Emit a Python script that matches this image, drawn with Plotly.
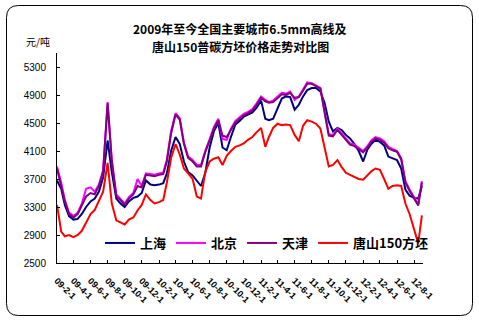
import plotly.graph_objects as go
import pandas as pd

# Sampling dates: 1st and 16th of each month, Feb 2009 – Aug 2012, plus the last quote
dates = []
for m in pd.period_range("2009-02", "2012-08", freq="M"):
    dates.append(f"{m.year}-{m.month:02d}-01")
    dates.append(f"{m.year}-{m.month:02d}-16")
dates.append("2012-08-29")

# Prices in yuan/ton
shanghai = [3680, 3560, 3330, 3170, 3120, 3130, 3200, 3300, 3380, 3420,
            3520, 3720, 4250, 3800, 3420, 3350, 3300, 3380, 3430, 3450,
            3500, 3680, 3620, 3610, 3620, 3640, 3780, 4100, 4300, 4200,
            3950, 3800, 3750, 3680, 3600, 3780, 4150, 4380, 4500, 4150,
            4110, 4300, 4480, 4530, 4590, 4620, 4650, 4720, 4820, 4560,
            4540, 4560, 4700, 4850, 4880, 4870, 4690, 4760, 4880, 4970,
            5000, 5000, 4950, 4790, 4520, 4380, 4430, 4400, 4330, 4280,
            4200, 4100, 3950, 4120, 4200, 4260, 4230, 4180, 4020, 4000,
            3970, 3850, 3550, 3460, 3430, 3420, 3600]

beijing = [3880, 3650, 3400, 3220, 3170, 3220, 3350, 3560, 3580, 3520,
           3620, 3830, 4800, 3980, 3480, 3420, 3350, 3440, 3500, 3700,
           3600, 3780, 3770, 3760, 3780, 3790, 3980, 4380, 4640, 4570,
           4220, 4020, 3970, 3900, 3900, 4100, 4270, 4440, 4560, 4270,
           4260, 4420, 4530, 4580, 4630, 4660, 4700, 4780, 4880, 4830,
           4800, 4820, 4880, 4930, 4920, 4950, 4830, 4880, 4980, 5080,
           5070, 5040, 5000, 4670, 4340, 4330, 4420, 4350, 4280, 4210,
           4190, 4150, 4100, 4170, 4250, 4300, 4280, 4240, 4160, 4130,
           4100, 4000, 3670, 3550, 3440, 3340, 3670]

tianjin = [3850, 3620, 3380, 3200, 3150, 3200, 3330, 3450, 3500, 3480,
           3600, 3800, 4780, 3950, 3450, 3400, 3330, 3420, 3480, 3600,
           3580, 3760, 3750, 3740, 3760, 3770, 3950, 4350, 4620, 4550,
           4200, 4000, 3950, 3880, 3880, 4080, 4250, 4420, 4540, 4320,
           4300, 4400, 4510, 4560, 4610, 4640, 4680, 4760, 4860, 4810,
           4790, 4800, 4860, 4910, 4900, 4930, 4860, 4870, 4960, 5060,
           5060, 5030, 4990, 4650, 4320, 4310, 4400, 4330, 4260, 4190,
           4170, 4130, 4080, 4150, 4230, 4280, 4260, 4220, 4140, 4110,
           4090, 3980, 3650, 3530, 3420, 3320, 3650]

tangshan = [3330, 2950, 2880, 2900, 2870, 2900, 2960, 3080, 3200, 3260,
            3400, 3520, 3930, 3350, 3110, 3080, 3050, 3120, 3150, 3250,
            3330, 3480, 3400, 3350, 3370, 3400, 3650, 4000, 4200, 4050,
            3850, 3780, 3700, 3450, 3420, 3800, 3950, 3990, 4010, 3900,
            4030, 4100, 4160, 4180, 4210, 4260, 4300, 4370, 4430, 4160,
            4300, 4430, 4490, 4470, 4480, 4470, 4330, 4240, 4460, 4540,
            4520, 4490, 4420, 4150, 3880, 3900, 3970, 3870, 3790, 3760,
            3730, 3700, 3690, 3760, 3810, 3850, 3830, 3700, 3560, 3600,
            3610, 3600, 3350, 3200, 2980, 2780, 3180]

series_names = ["上海", "北京", "天津", "唐山150方坯"]
series_values = [shanghai, beijing, tianjin, tangshan]
series_colors = ["#000080", "#FF00FF", "#800080", "#FF0000"]

title_lines = ["2009年至今全国主要城市6.5mm高线及", "唐山150普碳方坯价格走势对比图"]
unit_label = "元/吨"

W, H = 479, 323
ML, MR, MT, MB = 57, 56, 53, 60
PW, PH = W - ML - MR, H - MT - MB


def px(x):
    return (x - ML) / PW


def py(y):
    return (H - MB - y) / PH


fig = go.Figure()
for name, vals, col in zip(series_names, series_values, series_colors):
    fig.add_trace(go.Scatter(x=dates, y=vals, name=name, mode="lines",
                             line=dict(color=col, width=2)))

# rounded frame around the whole chart
x0, y0, x1, y1, r = 6.5, 5.5, 472.5, 315.5, 12
frame = (f"M {px(x0 + r)},{py(y0)} L {px(x1 - r)},{py(y0)} "
         f"Q {px(x1)},{py(y0)} {px(x1)},{py(y0 + r)} "
         f"L {px(x1)},{py(y1 - r)} Q {px(x1)},{py(y1)} {px(x1 - r)},{py(y1)} "
         f"L {px(x0 + r)},{py(y1)} Q {px(x0)},{py(y1)} {px(x0)},{py(y1 - r)} "
         f"L {px(x0)},{py(y0 + r)} Q {px(x0)},{py(y0)} {px(x0 + r)},{py(y0)} Z")
fig.add_shape(type="path", path=frame, xref="paper", yref="paper",
              line=dict(color="black", width=1), layer="below")

# two-line bold title
for line, yc in zip(title_lines, [28.5, 46.5]):
    fig.add_annotation(text="<b>" + line + "</b>",
                       xref="paper", yref="paper", x=0.5, y=py(yc),
                       xanchor="center", yanchor="middle", showarrow=False,
                       font=dict(family="Noto Sans CJK SC", size=12,
                                 color="black"))
fig.add_annotation(text=unit_label, xref="paper", yref="paper",
                   x=px(38), y=py(42), xanchor="center", yanchor="middle",
                   showarrow=False,
                   font=dict(family="Noto Sans CJK SC", size=10, color="black"))

fig.update_layout(
    width=W, height=H,
    margin=dict(l=ML, r=MR, t=MT, b=MB),
    paper_bgcolor="white", plot_bgcolor="white",
    showlegend=True,
    legend=dict(orientation="h", x=px(100), y=py(243), xanchor="left",
                yanchor="middle", bgcolor="rgba(0,0,0,0)",
                font=dict(family="Noto Sans CJK SC", size=13, color="black",
                          weight="bold"),
                itemwidth=30, tracegroupgap=0),
    xaxis=dict(type="date", range=["2009-02-01", "2012-09-02"],
               tick0="2009-02-01", dtick="M2", tickformat="%y-%-m-%-d",
               tickangle=45, showgrid=False, zeroline=False,
               showline=True, linecolor="black", linewidth=1,
               ticks="inside", ticklen=3, tickcolor="black",
               ticklabelstandoff=8,
               tickfont=dict(family="Liberation Sans", size=9, color="black",
                             weight="bold")),
    yaxis=dict(range=[2500, 5500], tick0=2500, dtick=400,
               showgrid=False, zeroline=False,
               showline=True, linecolor="black", linewidth=1,
               ticks="inside", ticklen=3, tickcolor="black",
               ticklabelstandoff=8,
               tickfont=dict(family="Liberation Sans", size=10, color="black")),
)

fig.write_html("out.html")
